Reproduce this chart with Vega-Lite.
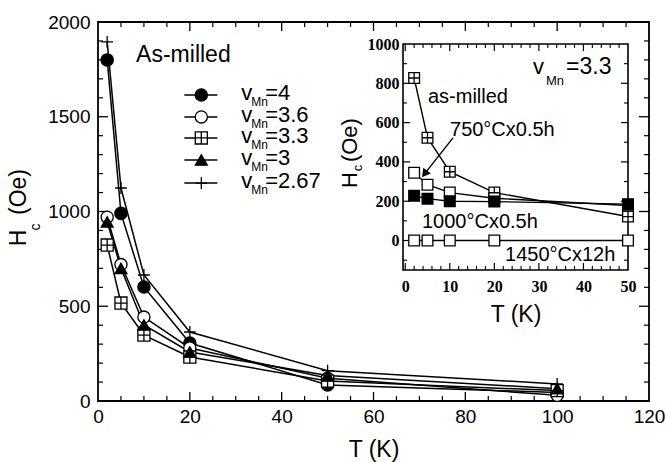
{
  "$schema": "https://vega.github.io/schema/vega-lite/v6.json",
  "width": 551,
  "height": 379,
  "autosize": {"type": "none"},
  "padding": {"left": 98, "top": 22, "right": 17, "bottom": 61},
  "background": "white",
  "config": {
    "view": {"stroke": "black", "strokeWidth": 1.8},
    "font": "Liberation Sans",
    "axis": {"grid": false, "domain": false, "ticks": false, "labelColor": "black", "titleColor": "black", "labelFlush": false, "labelOverlap": false, "labelBound": false, "titleFontWeight": "normal", "labelFont": "Liberation Sans", "titleFont": "Liberation Sans", "format": "d"}
  },
  "datasets": {
    "main": [
      {"s": "4", "T": 2, "Hc": 1800}, {"s": "4", "T": 5, "Hc": 990}, {"s": "4", "T": 10, "Hc": 602}, {"s": "4", "T": 20, "Hc": 306}, {"s": "4", "T": 50, "Hc": 85}, {"s": "4", "T": 100, "Hc": 45},
      {"s": "3.6", "T": 2, "Hc": 970}, {"s": "3.6", "T": 5, "Hc": 720}, {"s": "3.6", "T": 10, "Hc": 443}, {"s": "3.6", "T": 20, "Hc": 280}, {"s": "3.6", "T": 50, "Hc": 120}, {"s": "3.6", "T": 100, "Hc": 30},
      {"s": "3.3", "T": 2, "Hc": 823}, {"s": "3.3", "T": 5, "Hc": 517}, {"s": "3.3", "T": 10, "Hc": 348}, {"s": "3.3", "T": 20, "Hc": 232}, {"s": "3.3", "T": 50, "Hc": 105}, {"s": "3.3", "T": 100, "Hc": 55},
      {"s": "3", "T": 2, "Hc": 945}, {"s": "3", "T": 5, "Hc": 700}, {"s": "3", "T": 10, "Hc": 401}, {"s": "3", "T": 20, "Hc": 259}, {"s": "3", "T": 50, "Hc": 135}, {"s": "3", "T": 100, "Hc": 65},
      {"s": "2.67", "T": 2, "Hc": 1895}, {"s": "2.67", "T": 5, "Hc": 1124}, {"s": "2.67", "T": 10, "Hc": 665}, {"s": "2.67", "T": 20, "Hc": 364}, {"s": "2.67", "T": 50, "Hc": 160}, {"s": "2.67", "T": 100, "Hc": 90}
    ],
    "legend": [
      {"s": "4", "lab": "=4", "Hc": 1615},
      {"s": "3.6", "lab": "=3.6", "Hc": 1499},
      {"s": "3.3", "lab": "=3.3", "Hc": 1388},
      {"s": "3", "lab": "=3", "Hc": 1272},
      {"s": "2.67", "lab": "=2.67", "Hc": 1150}
    ],
    "inset": [
      {"s": "as-milled", "T": 2, "Hc": 827}, {"s": "as-milled", "T": 5, "Hc": 523}, {"s": "as-milled", "T": 10, "Hc": 350}, {"s": "as-milled", "T": 20, "Hc": 244}, {"s": "as-milled", "T": 50, "Hc": 122},
      {"s": "750", "T": 2, "Hc": 345}, {"s": "750", "T": 5, "Hc": 284}, {"s": "750", "T": 10, "Hc": 244}, {"s": "750", "T": 20, "Hc": 215}, {"s": "750", "T": 50, "Hc": 178},
      {"s": "1000", "T": 2, "Hc": 228}, {"s": "1000", "T": 5, "Hc": 213}, {"s": "1000", "T": 10, "Hc": 200}, {"s": "1000", "T": 20, "Hc": 198}, {"s": "1000", "T": 50, "Hc": 185},
      {"s": "1450", "T": 2, "Hc": 0}, {"s": "1450", "T": 5, "Hc": 0}, {"s": "1450", "T": 10, "Hc": 0}, {"s": "1450", "T": 20, "Hc": 0}, {"s": "1450", "T": 50, "Hc": 0}
    ],
    "mxMaj": [{"v": 20}, {"v": 40}, {"v": 60}, {"v": 80}, {"v": 100}],
    "mxMin": [{"v": 5}, {"v": 10}, {"v": 15}, {"v": 25}, {"v": 30}, {"v": 35}, {"v": 45}, {"v": 50}, {"v": 55}, {"v": 65}, {"v": 70}, {"v": 75}, {"v": 85}, {"v": 90}, {"v": 95}, {"v": 105}, {"v": 110}, {"v": 115}],
    "myMaj": [{"v": 500}, {"v": 1000}, {"v": 1500}],
    "myMin": [{"v": 100}, {"v": 200}, {"v": 300}, {"v": 400}, {"v": 600}, {"v": 700}, {"v": 800}, {"v": 900}, {"v": 1100}, {"v": 1200}, {"v": 1300}, {"v": 1400}, {"v": 1600}, {"v": 1700}, {"v": 1800}, {"v": 1900}],
    "ixMaj": [{"v": 0}, {"v": 10}, {"v": 20}, {"v": 30}, {"v": 40}],
    "ixMin": [{"v": 2}, {"v": 4}, {"v": 6}, {"v": 8}, {"v": 12}, {"v": 14}, {"v": 16}, {"v": 18}, {"v": 22}, {"v": 24}, {"v": 26}, {"v": 28}, {"v": 32}, {"v": 34}, {"v": 36}, {"v": 38}, {"v": 42}, {"v": 44}, {"v": 46}, {"v": 48}],
    "iyMaj": [{"v": 0}, {"v": 200}, {"v": 400}, {"v": 600}, {"v": 800}],
    "iyMin": [{"v": -100}, {"v": 100}, {"v": 300}, {"v": 500}, {"v": 700}, {"v": 900}]
  },
  "layer": [
    {
      "layer": [
        {"data": {"name": "mxMaj"}, "mark": {"type": "rule", "color": "black", "strokeWidth": 1.3},
         "encoding": {"x": {"field": "v", "type": "quantitative", "scale": {"domain": [0, 120], "nice": false, "zero": false}, "axis": null}, "y": {"datum": 0, "type": "quantitative", "scale": {"domain": [0, 2000], "nice": false, "zero": false}, "axis": null}, "y2": {"datum": 47.5}}},
        {"data": {"name": "mxMaj"}, "mark": {"type": "rule", "color": "black", "strokeWidth": 1.3},
         "encoding": {"x": {"field": "v", "type": "quantitative", "axis": null}, "y": {"datum": 2000, "type": "quantitative", "axis": null}, "y2": {"datum": 1952.5}}},
        {"data": {"name": "mxMin"}, "mark": {"type": "rule", "color": "black", "strokeWidth": 1.2},
         "encoding": {"x": {"field": "v", "type": "quantitative", "axis": null}, "y": {"datum": 0, "type": "quantitative", "axis": null}, "y2": {"datum": 26.4}}},
        {"data": {"name": "mxMin"}, "mark": {"type": "rule", "color": "black", "strokeWidth": 1.2},
         "encoding": {"x": {"field": "v", "type": "quantitative", "axis": null}, "y": {"datum": 2000, "type": "quantitative", "axis": null}, "y2": {"datum": 1973.6}}},
        {"data": {"name": "myMaj"}, "mark": {"type": "rule", "color": "black", "strokeWidth": 1.3},
         "encoding": {"y": {"field": "v", "type": "quantitative", "axis": null}, "x": {"datum": 0, "type": "quantitative", "axis": null}, "x2": {"datum": 2.18}}},
        {"data": {"name": "myMaj"}, "mark": {"type": "rule", "color": "black", "strokeWidth": 1.3},
         "encoding": {"y": {"field": "v", "type": "quantitative", "axis": null}, "x": {"datum": 120, "type": "quantitative", "axis": null}, "x2": {"datum": 117.82}}},
        {"data": {"name": "myMin"}, "mark": {"type": "rule", "color": "black", "strokeWidth": 1.2},
         "encoding": {"y": {"field": "v", "type": "quantitative", "axis": null}, "x": {"datum": 0, "type": "quantitative", "axis": null}, "x2": {"datum": 1.09}}},
        {"data": {"name": "myMin"}, "mark": {"type": "rule", "color": "black", "strokeWidth": 1.2},
         "encoding": {"y": {"field": "v", "type": "quantitative", "axis": null}, "x": {"datum": 120, "type": "quantitative", "axis": null}, "x2": {"datum": 118.91}}}
      ]
    },
    {
      "layer": [
        {"data": {"name": "ixMaj"}, "mark": {"type": "rule", "color": "black", "strokeWidth": 1.2},
         "encoding": {"x": {"field": "v", "type": "quantitative", "scale": {"domain": [-0.5, 50], "range": [305, 530], "nice": false, "zero": false}, "axis": null}, "y": {"datum": -150, "type": "quantitative", "scale": {"domain": [-150, 1000], "range": [248, 22], "nice": false, "zero": false}, "axis": null}, "y2": {"datum": -114.4}}},
        {"data": {"name": "ixMaj"}, "mark": {"type": "rule", "color": "black", "strokeWidth": 1.2},
         "encoding": {"x": {"field": "v", "type": "quantitative", "axis": null}, "y": {"datum": 1000, "type": "quantitative", "axis": null}, "y2": {"datum": 964.4}}},
        {"data": {"name": "ixMin"}, "mark": {"type": "rule", "color": "black", "strokeWidth": 1.1},
         "encoding": {"x": {"field": "v", "type": "quantitative", "axis": null}, "y": {"datum": -150, "type": "quantitative", "axis": null}, "y2": {"datum": -129.6}}},
        {"data": {"name": "ixMin"}, "mark": {"type": "rule", "color": "black", "strokeWidth": 1.1},
         "encoding": {"x": {"field": "v", "type": "quantitative", "axis": null}, "y": {"datum": 1000, "type": "quantitative", "axis": null}, "y2": {"datum": 979.6}}},
        {"data": {"name": "iyMaj"}, "mark": {"type": "rule", "color": "black", "strokeWidth": 1.2},
         "encoding": {"y": {"field": "v", "type": "quantitative", "axis": null}, "x": {"datum": -0.5, "type": "quantitative", "axis": null}, "x2": {"datum": 1.07}}},
        {"data": {"name": "iyMaj"}, "mark": {"type": "rule", "color": "black", "strokeWidth": 1.2},
         "encoding": {"y": {"field": "v", "type": "quantitative", "axis": null}, "x": {"datum": 50, "type": "quantitative", "axis": null}, "x2": {"datum": 48.43}}},
        {"data": {"name": "iyMin"}, "mark": {"type": "rule", "color": "black", "strokeWidth": 1.1},
         "encoding": {"y": {"field": "v", "type": "quantitative", "axis": null}, "x": {"datum": -0.5, "type": "quantitative", "axis": null}, "x2": {"datum": 0.4}}},
        {"data": {"name": "iyMin"}, "mark": {"type": "rule", "color": "black", "strokeWidth": 1.1},
         "encoding": {"y": {"field": "v", "type": "quantitative", "axis": null}, "x": {"datum": 50, "type": "quantitative", "axis": null}, "x2": {"datum": 49.1}}}
      ]
    },
    {
      "layer": [
        {
          "data": {"name": "main"},
          "mark": {"type": "line", "color": "black", "strokeWidth": 1.5},
          "encoding": {
            "x": {"field": "T", "type": "quantitative", "scale": {"domain": [0, 120], "nice": false, "zero": false},
                  "axis": {"orient": "bottom", "values": [0, 20, 40, 60, 80, 100, 120], "labelPadding": 6, "labelFontSize": 19, "title": "T (K)", "titleFontSize": 23, "titlePadding": 12}},
            "y": {"field": "Hc", "type": "quantitative", "scale": {"domain": [0, 2000], "nice": false, "zero": false},
                  "axis": {"orient": "left", "values": [0, 500, 1000, 1500, 2000], "labelPadding": 8, "labelFontSize": 19, "title": null}},
            "detail": {"field": "s"}
          }
        },
        {
          "data": {"name": "main"},
          "mark": {"type": "point", "filled": true, "opacity": 1, "fillOpacity": 1, "stroke": "black", "strokeWidth": 1.3},
          "encoding": {
            "x": {"field": "T", "type": "quantitative"},
            "y": {"field": "Hc", "type": "quantitative"},
            "shape": {"field": "s", "type": "nominal", "scale": {"domain": ["4", "3.6", "3.3", "3", "2.67"], "range": ["circle", "circle", "M-1,-1L1,-1L1,1L-1,1Z M0,-1L0,1 M-1,0L1,0", "triangle-up", "M0,-1L0,1M-1,0L1,0"]}, "legend": null},
            "fill": {"field": "s", "type": "nominal", "scale": {"domain": ["4", "3.6", "3.3", "3", "2.67"], "range": ["black", "white", "white", "black", "white"]}, "legend": null},
            "size": {"field": "s", "type": "ordinal", "scale": {"domain": ["4", "3.6", "3.3", "3", "2.67"], "range": [150, 140, 140, 180, 200]}, "legend": null}
          }
        },
        {
          "data": {"name": "legend"},
          "mark": {"type": "rule", "color": "black", "strokeWidth": 1.5},
          "encoding": {
            "x": {"datum": 18.8, "type": "quantitative"},
            "x2": {"datum": 26},
            "y": {"field": "Hc", "type": "quantitative"}
          }
        },
        {
          "data": {"name": "legend"},
          "mark": {"type": "point", "filled": true, "opacity": 1, "fillOpacity": 1, "stroke": "black", "strokeWidth": 1.3},
          "encoding": {
            "x": {"datum": 22.5, "type": "quantitative"},
            "y": {"field": "Hc", "type": "quantitative"},
            "shape": {"field": "s", "type": "nominal", "scale": {"domain": ["4", "3.6", "3.3", "3", "2.67"], "range": ["circle", "circle", "M-1,-1L1,-1L1,1L-1,1Z M0,-1L0,1 M-1,0L1,0", "triangle-up", "M0,-1L0,1M-1,0L1,0"]}, "legend": null},
            "fill": {"field": "s", "type": "nominal", "scale": {"domain": ["4", "3.6", "3.3", "3", "2.67"], "range": ["black", "white", "white", "black", "white"]}, "legend": null},
            "size": {"field": "s", "type": "ordinal", "scale": {"domain": ["4", "3.6", "3.3", "3", "2.67"], "range": [150, 140, 140, 180, 200]}, "legend": null}
          }
        },
        {
          "data": {"name": "legend"},
          "mark": {"type": "text", "text": "v", "align": "left", "baseline": "alphabetic", "dy": 5, "fontSize": 22, "color": "black"},
          "encoding": {
            "x": {"datum": 31.2, "type": "quantitative"},
            "y": {"field": "Hc", "type": "quantitative"}
          }
        },
        {
          "data": {"name": "legend"},
          "mark": {"type": "text", "text": "Mn", "align": "left", "baseline": "alphabetic", "dy": 11, "fontSize": 12, "color": "black"},
          "encoding": {
            "x": {"datum": 33.4, "type": "quantitative"},
            "y": {"field": "Hc", "type": "quantitative"}
          }
        },
        {
          "data": {"name": "legend"},
          "mark": {"type": "text", "align": "left", "baseline": "alphabetic", "dy": 5, "fontSize": 22, "color": "black"},
          "encoding": {
            "x": {"datum": 36.4, "type": "quantitative"},
            "y": {"field": "Hc", "type": "quantitative"},
            "text": {"field": "lab"}
          }
        },
        {
          "data": {"values": [{"label": "As-milled"}]},
          "mark": {"type": "text", "align": "left", "baseline": "middle", "fontSize": 23, "color": "black"},
          "encoding": {
            "x": {"datum": 8.3, "type": "quantitative"},
            "y": {"datum": 1826, "type": "quantitative"},
            "text": {"field": "label"}
          }
        },
        {
          "data": {"values": [{"label": "H"}]},
          "mark": {"type": "text", "align": "center", "baseline": "middle", "fontSize": 23, "angle": 270, "color": "black"},
          "encoding": {
            "x": {"datum": -17.2, "type": "quantitative"},
            "y": {"datum": 860, "type": "quantitative"},
            "text": {"field": "label"}
          }
        },
        {
          "data": {"values": [{"label": "c"}]},
          "mark": {"type": "text", "align": "center", "baseline": "middle", "fontSize": 14, "angle": 270, "color": "black"},
          "encoding": {
            "x": {"datum": -13.5, "type": "quantitative"},
            "y": {"datum": 918, "type": "quantitative"},
            "text": {"field": "label"}
          }
        },
        {
          "data": {"values": [{"label": "(Oe)"}]},
          "mark": {"type": "text", "align": "center", "baseline": "middle", "fontSize": 23, "angle": 270, "color": "black"},
          "encoding": {
            "x": {"datum": -17.2, "type": "quantitative"},
            "y": {"datum": 1103, "type": "quantitative"},
            "text": {"field": "label"}
          }
        }
      ]
    },
    {
      "layer": [
        {
          "data": {"name": "inset"},
          "mark": {"type": "line", "color": "black", "strokeWidth": 1.4},
          "encoding": {
            "x": {"field": "T", "type": "quantitative", "scale": {"domain": [-0.5, 50], "range": [305, 530], "nice": false, "zero": false},
                  "axis": {"orient": "bottom", "offset": -131, "values": [0, 10, 20, 30, 40, 50], "labelPadding": 8, "labelFont": "Liberation Serif", "labelFontSize": 16, "labelFontWeight": "bold", "title": "T (K)", "titleFontSize": 23, "titlePadding": 9}},
            "y": {"field": "Hc", "type": "quantitative", "scale": {"domain": [-150, 1000], "range": [248, 22], "nice": false, "zero": false},
                  "axis": {"orient": "left", "offset": -305, "values": [0, 200, 400, 600, 800, 1000], "labelPadding": 4, "labelFont": "Liberation Serif", "labelFontSize": 16, "labelFontWeight": "bold", "title": null}},
            "detail": {"field": "s"}
          }
        },
        {
          "data": {"values": [{"label": "frame"}]},
          "mark": {"type": "rect", "fill": "white", "fillOpacity": 0, "stroke": "black", "strokeWidth": 1.6},
          "encoding": {
            "x": {"datum": -0.5, "type": "quantitative"},
            "x2": {"datum": 50},
            "y": {"datum": -150, "type": "quantitative"},
            "y2": {"datum": 1000}
          }
        },
        {
          "data": {"name": "inset"},
          "mark": {"type": "point", "filled": true, "opacity": 1, "fillOpacity": 1, "stroke": "black", "strokeWidth": 1.3},
          "encoding": {
            "x": {"field": "T", "type": "quantitative"},
            "y": {"field": "Hc", "type": "quantitative"},
            "shape": {"field": "s", "type": "nominal", "scale": {"domain": ["as-milled", "750", "1000", "1450"], "range": ["M-1,-1L1,-1L1,1L-1,1Z M0,-1L0,1 M-1,0L1,0", "square", "square", "square"]}, "legend": null},
            "fill": {"field": "s", "type": "nominal", "scale": {"domain": ["as-milled", "750", "1000", "1450"], "range": ["white", "white", "black", "white"]}, "legend": null},
            "size": {"value": 115}
          }
        },
        {
          "data": {"values": [{"label": "as-milled"}]},
          "mark": {"type": "text", "align": "left", "baseline": "middle", "fontSize": 20, "color": "black"},
          "encoding": {
            "x": {"datum": 5.1, "type": "quantitative"},
            "y": {"datum": 730, "type": "quantitative"},
            "text": {"field": "label"}
          }
        },
        {
          "data": {"values": [{"label": "750°Cx0.5h"}]},
          "mark": {"type": "text", "align": "left", "baseline": "middle", "fontSize": 20, "color": "black"},
          "encoding": {
            "x": {"datum": 10.05, "type": "quantitative"},
            "y": {"datum": 562, "type": "quantitative"},
            "text": {"field": "label"}
          }
        },
        {
          "data": {"values": [{"label": "1000°Cx0.5h"}]},
          "mark": {"type": "text", "align": "left", "baseline": "middle", "fontSize": 20, "color": "black"},
          "encoding": {
            "x": {"datum": 3.76, "type": "quantitative"},
            "y": {"datum": 94, "type": "quantitative"},
            "text": {"field": "label"}
          }
        },
        {
          "data": {"values": [{"label": "1450°Cx12h"}]},
          "mark": {"type": "text", "align": "left", "baseline": "middle", "fontSize": 20, "color": "black"},
          "encoding": {
            "x": {"datum": 22.4, "type": "quantitative"},
            "y": {"datum": -74, "type": "quantitative"},
            "text": {"field": "label"}
          }
        },
        {
          "data": {"values": [{"label": "arrow"}]},
          "mark": {"type": "rule", "color": "black", "strokeWidth": 1.4},
          "encoding": {
            "x": {"datum": 10.72, "type": "quantitative"},
            "x2": {"datum": 4.33},
            "y": {"datum": 522, "type": "quantitative"},
            "y2": {"datum": 339}
          }
        },
        {
          "data": {"values": [{"label": "arrowhead"}]},
          "mark": {"type": "point", "shape": "triangle-up", "filled": true, "color": "black", "opacity": 1, "size": 90, "angle": 218},
          "encoding": {
            "x": {"datum": 4.33, "type": "quantitative"},
            "y": {"datum": 339, "type": "quantitative"}
          }
        },
        {
          "data": {"values": [{"label": "v"}]},
          "mark": {"type": "text", "align": "left", "baseline": "alphabetic", "fontSize": 22, "color": "black"},
          "encoding": {
            "x": {"datum": 28.7, "type": "quantitative"},
            "y": {"datum": 847, "type": "quantitative"},
            "text": {"field": "label"}
          }
        },
        {
          "data": {"values": [{"label": "Mn"}]},
          "mark": {"type": "text", "align": "left", "baseline": "alphabetic", "fontSize": 13, "color": "black"},
          "encoding": {
            "x": {"datum": 31.6, "type": "quantitative"},
            "y": {"datum": 791, "type": "quantitative"},
            "text": {"field": "label"}
          }
        },
        {
          "data": {"values": [{"label": "=3.3"}]},
          "mark": {"type": "text", "align": "left", "baseline": "alphabetic", "fontSize": 23, "color": "black"},
          "encoding": {
            "x": {"datum": 36.1, "type": "quantitative"},
            "y": {"datum": 847, "type": "quantitative"},
            "text": {"field": "label"}
          }
        },
        {
          "data": {"values": [{"label": "H"}]},
          "mark": {"type": "text", "align": "center", "baseline": "middle", "fontSize": 22, "angle": 270, "color": "black"},
          "encoding": {
            "x": {"datum": -12.4, "type": "quantitative"},
            "y": {"datum": 308, "type": "quantitative"},
            "text": {"field": "label"}
          }
        },
        {
          "data": {"values": [{"label": "c"}]},
          "mark": {"type": "text", "align": "center", "baseline": "middle", "fontSize": 13, "angle": 270, "color": "black"},
          "encoding": {
            "x": {"datum": -10.6, "type": "quantitative"},
            "y": {"datum": 369, "type": "quantitative"},
            "text": {"field": "label"}
          }
        },
        {
          "data": {"values": [{"label": "(Oe)"}]},
          "mark": {"type": "text", "align": "center", "baseline": "middle", "fontSize": 22, "angle": 270, "color": "black"},
          "encoding": {
            "x": {"datum": -12.4, "type": "quantitative"},
            "y": {"datum": 511, "type": "quantitative"},
            "text": {"field": "label"}
          }
        }
      ]
    }
  ],
  "resolve": {
    "scale": {"x": "independent", "y": "independent", "shape": "independent", "fill": "independent", "size": "independent"},
    "axis": {"x": "independent", "y": "independent"}
  }
}
